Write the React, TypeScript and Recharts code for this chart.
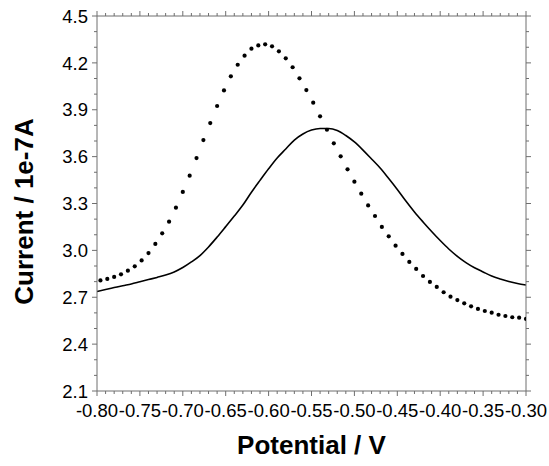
import { ComposedChart, Line, Scatter, XAxis, YAxis, Label } from "recharts";

// dotted trace (markers only)
const dotPotential = [
  -0.796, -0.788, -0.78, -0.772, -0.764, -0.756, -0.748, -0.74, -0.732, -0.724, -0.716, -0.708, -0.7,
  -0.692, -0.684, -0.676, -0.668, -0.66, -0.652, -0.644, -0.636, -0.628, -0.62, -0.612, -0.604, -0.596,
  -0.588, -0.58, -0.572, -0.564, -0.556, -0.548, -0.54, -0.532, -0.524, -0.516, -0.508, -0.5, -0.492,
  -0.484, -0.476, -0.468, -0.46, -0.452, -0.444, -0.436, -0.428, -0.42, -0.412, -0.404, -0.396, -0.388,
  -0.38, -0.372, -0.364, -0.356, -0.348, -0.34, -0.332, -0.324, -0.316, -0.308, -0.3,
];
const dotCurrent = [
  2.808, 2.817, 2.83, 2.847, 2.87, 2.898, 2.936, 2.983, 3.041, 3.109, 3.184, 3.273, 3.374,
  3.478, 3.591, 3.706, 3.815, 3.924, 4.024, 4.114, 4.188, 4.246, 4.291, 4.312, 4.319, 4.306,
  4.274, 4.229, 4.172, 4.101, 4.026, 3.945, 3.858, 3.772, 3.685, 3.602, 3.519, 3.44, 3.363,
  3.288, 3.22, 3.15, 3.09, 3.03, 2.977, 2.926, 2.881, 2.836, 2.798, 2.766, 2.732, 2.704,
  2.682, 2.661, 2.642, 2.625, 2.612, 2.601, 2.588, 2.58, 2.572, 2.569, 2.561,
];

// solid trace
const linePotential = [
  -0.8, -0.79, -0.78, -0.77, -0.76, -0.75, -0.74, -0.73, -0.72, -0.71, -0.7, -0.69, -0.68, -0.67, -0.66,
  -0.65, -0.64, -0.63, -0.62, -0.61, -0.6, -0.59, -0.58, -0.57, -0.56, -0.55, -0.54, -0.53, -0.52, -0.51,
  -0.5, -0.49, -0.48, -0.47, -0.46, -0.45, -0.44, -0.43, -0.42, -0.41, -0.4, -0.39, -0.38, -0.37, -0.36,
  -0.35, -0.34, -0.33, -0.32, -0.31, -0.3,
];
const lineCurrent = [
  2.737, 2.75, 2.762, 2.774, 2.785, 2.799, 2.813, 2.827, 2.842, 2.862, 2.89, 2.926, 2.967, 3.022, 3.085,
  3.152, 3.22, 3.29, 3.372, 3.448, 3.522, 3.591, 3.649, 3.706, 3.745, 3.77, 3.78, 3.78, 3.767, 3.735,
  3.694, 3.642, 3.585, 3.527, 3.46, 3.39, 3.316, 3.246, 3.182, 3.121, 3.063, 3.009, 2.962, 2.922, 2.889,
  2.862, 2.836, 2.817, 2.801, 2.788, 2.778,
];

const xTicks = [
  -0.8, -0.79, -0.78, -0.77, -0.76, -0.75, -0.74, -0.73, -0.72, -0.71, -0.7, -0.69, -0.68, -0.67, -0.66,
  -0.65, -0.64, -0.63, -0.62, -0.61, -0.6, -0.59, -0.58, -0.57, -0.56, -0.55, -0.54, -0.53, -0.52, -0.51,
  -0.5, -0.49, -0.48, -0.47, -0.46, -0.45, -0.44, -0.43, -0.42, -0.41, -0.4, -0.39, -0.38, -0.37, -0.36,
  -0.35, -0.34, -0.33, -0.32, -0.31, -0.3,
];
const yTicks = [
  2.1, 2.2, 2.3, 2.4, 2.5, 2.6, 2.7, 2.8, 2.9, 3.0, 3.1, 3.2, 3.3, 3.4, 3.5, 3.6, 3.7, 3.8, 3.9, 4.0,
  4.1, 4.2, 4.3, 4.4, 4.5,
];

const dotData = dotPotential.map((x, i) => ({ x, y: dotCurrent[i] }));
const lineData = linePotential.map((x, i) => ({ x, y: lineCurrent[i] }));

const FONT = "'Liberation Sans', Arial, sans-serif";
const AXIS = "#6e6e6e";

const isMajorX = (v: number) => Math.round(Math.abs(v) * 100) % 5 === 0;
const isMajorY = (v: number) => Math.round(v * 10) % 3 === 0;

const BottomTick = ({ x, y, payload }: any) => {
  const major = isMajorX(payload.value);
  return (
    <g>
      <line x1={x} y1={y} x2={x} y2={y + (major ? 5 : 3)} stroke={AXIS} />
      {major ? (
        <text x={x} y={y + 26} textAnchor="middle" fontSize={18.5} fontFamily={FONT} fill="#000">
          {payload.value.toFixed(2)}
        </text>
      ) : null}
    </g>
  );
};

const TopTick = ({ x, y, payload }: any) => {
  const major = isMajorX(payload.value);
  return <line x1={x} y1={y} x2={x} y2={y - (major ? 5 : 3)} stroke={AXIS} />;
};

const LeftTick = ({ x, y, payload }: any) => {
  const major = isMajorY(payload.value);
  return (
    <g>
      <line x1={x} y1={y} x2={x - (major ? 5 : 3)} y2={y} stroke={AXIS} />
      {major ? (
        <text x={x - 9} y={y} dy="0.36em" textAnchor="end" fontSize={18.5} fontFamily={FONT} fill="#000">
          {payload.value.toFixed(1)}
        </text>
      ) : null}
    </g>
  );
};

const RightTick = ({ x, y, payload }: any) => {
  const major = isMajorY(payload.value);
  return <line x1={x} y1={y} x2={x + (major ? 5 : 3)} y2={y} stroke={AXIS} />;
};

const DotShape = ({ cx, cy }: any) => <circle cx={cx} cy={cy} r={2.1} fill="#000" />;

export default function App() {
  return (
    <div style={{ position: "fixed", left: 0, top: 0, background: "#fff" }}>
      <ComposedChart width={549} height={466} margin={{ top: 15, right: 22, left: 0, bottom: 0 }}>
        <XAxis
          xAxisId="b"
          dataKey="x"
          type="number"
          domain={[-0.8, -0.3]}
          ticks={xTicks}
          interval={0}
          tick={<BottomTick />}
          tickSize={0}
          tickMargin={0}
          tickLine={false}
          axisLine={{ stroke: AXIS }}
          height={75}
          allowDataOverflow
        >
          <Label
            value="Potential / V"
            position="insideBottom"
            offset={12}
            style={{ fontSize: 26, fontWeight: "bold", fontFamily: FONT, fill: "#000" }}
          />
        </XAxis>
        <XAxis
          xAxisId="t"
          dataKey="x"
          type="number"
          orientation="top"
          domain={[-0.8, -0.3]}
          ticks={xTicks}
          interval={0}
          tick={<TopTick />}
          tickSize={0}
          tickMargin={0}
          tickLine={false}
          axisLine={{ stroke: AXIS }}
          height={1}
          allowDataOverflow
        />
        <YAxis
          yAxisId="l"
          type="number"
          domain={[2.1, 4.5]}
          ticks={yTicks}
          interval={0}
          tick={<LeftTick />}
          tickSize={0}
          tickMargin={0}
          tickLine={false}
          axisLine={{ stroke: AXIS }}
          width={97}
          allowDataOverflow
          label={({ viewBox }: any) => (
            <text
              x={33}
              y={viewBox.y + viewBox.height / 2 + 8}
              transform={`rotate(-90, 33, ${viewBox.y + viewBox.height / 2 + 8})`}
              textAnchor="middle"
              fontSize={26}
              fontWeight="bold"
              fontFamily={FONT}
              fill="#000"
            >
              Current / 1e-7A
            </text>
          )}
        />
        <YAxis
          yAxisId="r"
          type="number"
          orientation="right"
          domain={[2.1, 4.5]}
          ticks={yTicks}
          interval={0}
          tick={<RightTick />}
          tickSize={0}
          tickMargin={0}
          tickLine={false}
          axisLine={{ stroke: AXIS }}
          width={1}
          allowDataOverflow
        />
        <Line
          xAxisId="t"
          yAxisId="r"
          data={lineData}
          dataKey="y"
          stroke="none"
          dot={false}
          activeDot={false}
          isAnimationActive={false}
        />
        <Line
          xAxisId="b"
          yAxisId="l"
          data={lineData}
          dataKey="y"
          type="monotone"
          stroke="#000"
          strokeWidth={1.6}
          dot={false}
          isAnimationActive={false}
        />
        <Scatter
          xAxisId="b"
          yAxisId="l"
          data={dotData}
          dataKey="y"
          fill="#000"
          shape={<DotShape />}
          isAnimationActive={false}
        />
      </ComposedChart>
    </div>
  );
}
